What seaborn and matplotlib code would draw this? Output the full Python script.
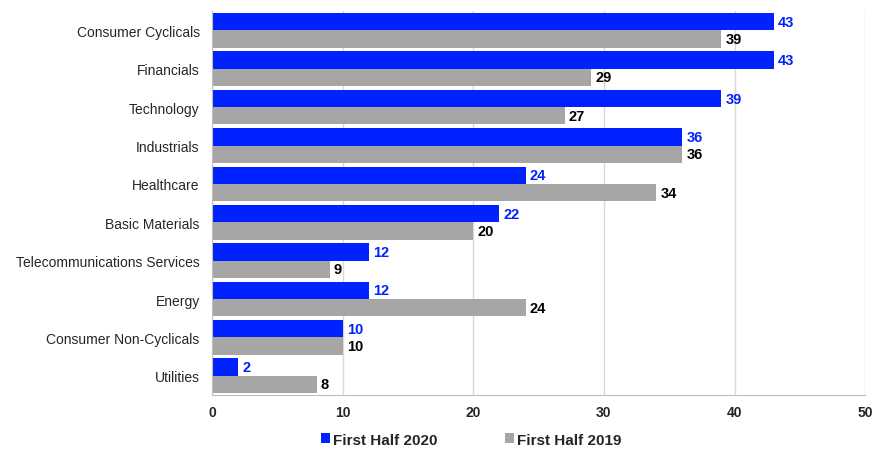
import numpy as np
import pandas as pd
import matplotlib
matplotlib.use("Agg")
import matplotlib.pyplot as plt
import seaborn as sns

sectors = ["Consumer Cyclicals", "Financials", "Technology", "Industrials",
           "Healthcare", "Basic Materials", "Telecommunications Services",
           "Energy", "Consumer Non-Cyclicals", "Utilities"]
h1_2020 = [43, 43, 39, 36, 24, 22, 12, 12, 10, 2]
h1_2019 = [39, 29, 27, 36, 34, 20, 9, 24, 10, 8]
series = ["First Half 2020", "First Half 2019"]
colors = ["#0022FF", "#A6A6A6"]

df = pd.DataFrame({
    "sector": sectors * 2,
    "value": h1_2020 + h1_2019,
    "period": [series[0]] * len(sectors) + [series[1]] * len(sectors),
})

sns.set_style("white")
plt.rcParams["font.family"] = ["Liberation Sans", "DejaVu Sans"]

fig = plt.figure(figsize=(8.73, 4.52), dpi=100)
ax = fig.add_axes([0.243, 0.124, 0.748, 0.849])

sns.barplot(data=df, y="sector", x="value", hue="period", orient="h",
            palette=colors, width=0.9, saturation=1, linewidth=0,
            ax=ax, legend=True)

# value labels
for cont, col in zip(ax.containers, ["#0022FF", "black"]):
    ax.bar_label(cont, padding=3, color=col, fontsize=10.5, fontweight="bold")

ax.set_xlim(0, 50)
ax.set_xticks([0, 10, 20, 30, 40, 50])
ax.set_xlabel("")
ax.set_ylabel("")
ax.grid(axis="x", color="#D9D9D9", linewidth=1)
ax.set_axisbelow(True)
for s in ["top", "right"]:
    ax.spines[s].set_visible(False)
for s in ["left", "bottom"]:
    ax.spines[s].set_color("#BFBFBF")
ax.tick_params(axis="y", labelsize=10, length=0, pad=9)
ax.tick_params(axis="x", labelsize=10, length=0, pad=7)
for t in ax.get_xticklabels():
    t.set_fontweight("bold")

handles, labels = ax.get_legend_handles_labels()
ax.get_legend().remove()
fig.legend(handles, labels, loc="center", bbox_to_anchor=(0.54, 0.025),
           ncol=2, frameon=False, prop={"weight": "bold", "size": 11},
           handlelength=0.6, handleheight=0.6, handletextpad=0.2,
           columnspacing=4.4)

fig.savefig("out.png", dpi=100)
